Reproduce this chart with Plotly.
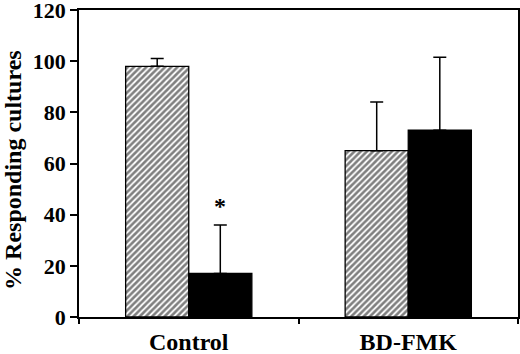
import plotly.graph_objects as go

categories = ["Control", "BD-FMK"]
hatched_values = [98, 65]
hatched_err = [3, 19]
solid_values = [17, 73]
solid_err = [19, 28.5]
y_ticks = [0, 20, 40, 60, 80, 100, 120]
y_title = "% Responding cultures"

FONT = "Liberation Serif"

fig = go.Figure()
fig.add_trace(go.Bar(
    x=categories, y=hatched_values,
    marker=dict(color="white", line=dict(color="black", width=1.3),
                pattern=dict(shape="/", fgcolor="black", bgcolor="white", size=4.4, solidity=0.6)),
    error_y=dict(type="data", array=hatched_err, arrayminus=[0, 0], symmetric=False,
                 color="black", thickness=1.5, width=6.5),
    showlegend=False,
))
fig.add_trace(go.Bar(
    x=categories, y=solid_values,
    marker=dict(color="black", line=dict(color="black", width=1.3)),
    error_y=dict(type="data", array=solid_err, arrayminus=[0, 0], symmetric=False,
                 color="black", thickness=1.5, width=6.5),
    showlegend=False,
))

fig.add_annotation(x=categories[0], y=solid_values[0] + solid_err[0], xref="x", yref="y",
                   text="<b>*</b>", showarrow=False, yanchor="bottom", xshift=31.5, yshift=4,
                   font=dict(family=FONT, size=24, color="black"))

# y-axis title as rotated annotation
fig.add_annotation(x=0, y=0.479, xref="paper", yref="paper", xanchor="center", yanchor="middle",
                   xshift=-66, text="<b>" + y_title + "</b>", textangle=-90, showarrow=False,
                   font=dict(family=FONT, size=24, color="black"))

fig.update_layout(
    width=520, height=354,
    margin=dict(l=79, r=2, t=10, b=37, autoexpand=False),
    paper_bgcolor="white", plot_bgcolor="white",
    barmode="group", bargap=0.425, bargroupgap=0,
    font=dict(family=FONT, color="black", size=22),
)
fig.update_xaxes(
    showline=True, linecolor="black", linewidth=1.5, mirror=True,
    ticks="outside", ticklen=5, tickwidth=1.5, tickcolor="black", tickson="boundaries",
    tickfont=dict(family=FONT, size=24, color="black", weight="bold"),
    ticklabeloverflow="allow", ticklabelstandoff=2,
    showgrid=False,
)
fig.update_yaxes(
    range=[0, 120], tickvals=y_ticks,
    showline=True, linecolor="black", linewidth=1.5, mirror=True,
    ticks="outside", ticklen=7, tickwidth=1.5, tickcolor="black",
    tickfont=dict(family=FONT, size=22, color="black", weight="bold"),
    ticklabeloverflow="allow",
    showgrid=False, zeroline=False,
)

fig.write_html("out.html", config={"displayModeBar": False},
               post_script="document.body.style.margin='0px';")
